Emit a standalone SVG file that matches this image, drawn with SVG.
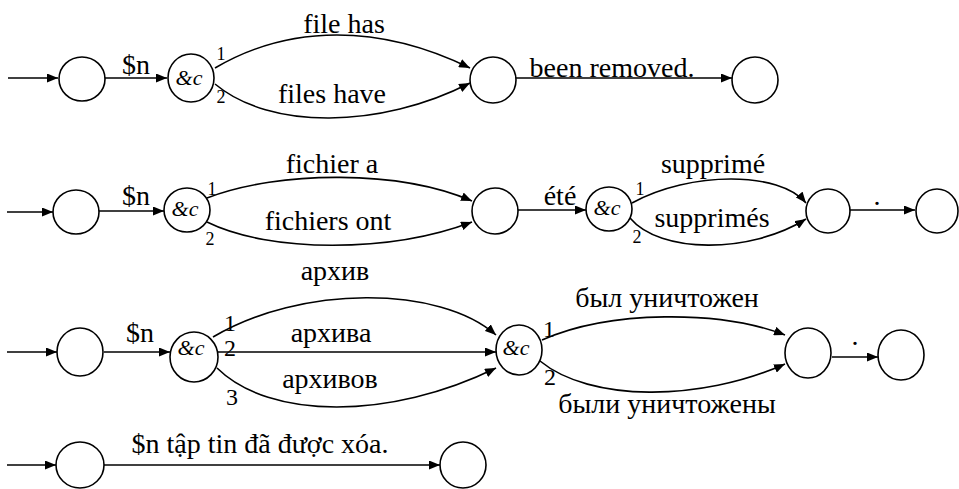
<svg xmlns="http://www.w3.org/2000/svg" width="959" height="489" viewBox="0 0 959 489">
<style>
.n{fill:#fff;stroke:#000;stroke-width:1.6}
.e{fill:none;stroke:#000;stroke-width:1.6;marker-end:url(#ah)}
text{fill:#000;text-anchor:middle}
.t{font-size:28px}
.s{font-size:18px}
.m{font-size:24px}
.c{font-size:22px;font-style:italic}
</style>
<defs>
<marker id="ah" markerUnits="userSpaceOnUse" markerWidth="12" markerHeight="9" refX="11" refY="4.5" orient="auto">
<path d="M0,0 L11,4.5 L0,9 z" fill="#000"/>
</marker>
</defs>
<rect width="959" height="489" fill="#fff"/>
<g id="connectors">
<path class="e" d="M8,78 L58,78"/>
<path class="e" d="M105,78 L167,78"/>
<path class="e" d="M215,68 C290,24 380,24 470,68"/>
<path class="e" d="M215,84 C270,130 380,129 470,83"/>
<path class="e" d="M516,78 L732,78"/>
<path class="e" d="M7,212 L53,212"/>
<path class="e" d="M99,211 L164,211"/>
<path class="e" d="M207,198 C280,170 400,170 472,201"/>
<path class="e" d="M207,222 C270,253 390,253 472,222"/>
<path class="e" d="M518,210 L586,210"/>
<path class="e" d="M632,203 C690,171 780,171 806,203"/>
<path class="e" d="M630,218 C660,254 750,254 806,219"/>
<path class="e" d="M850,210 L915,210"/>
<path class="e" d="M7,352 L57,352"/>
<path class="e" d="M104,352 L170,352"/>
<path class="e" d="M213,337 C300,285 440,285 496,335"/>
<path class="e" d="M218,352 L496,352"/>
<path class="e" d="M217,368 C270,420 390,420 496,368"/>
<path class="e" d="M542,340 C610,310 720,310 785,335"/>
<path class="e" d="M540,361 C590,402 700,402 785,364"/>
<path class="e" d="M832,357 L878,357"/>
<path class="e" d="M7,465 L56,465"/>
<path class="e" d="M104,465 L440,465"/>
</g>
<g id="labels" font-family="Liberation Serif, Times New Roman, DejaVu Serif, serif">
<text class="t" x="136" y="74">$n</text>
<text class="s" x="221" y="60">1</text>
<text class="s" x="221" y="103">2</text>
<text class="t" x="344" y="33">file has</text>
<text class="t" x="332" y="103">files have</text>
<text class="t" x="612" y="77">been removed.</text>
<text class="t" x="136" y="205">$n</text>
<text class="s" x="212" y="195">1</text>
<text class="s" x="210" y="245">2</text>
<text class="t" x="332" y="173">fichier a</text>
<text class="t" x="328" y="230">fichiers ont</text>
<text class="t" x="560" y="205">été</text>
<text class="s" x="640" y="195">1</text>
<text class="s" x="637" y="243">2</text>
<text class="t" x="713" y="173">supprimé</text>
<text class="t" x="712" y="227">supprimés</text>
<text class="t" x="877" y="205">.</text>
<text class="t" x="140" y="342">$n</text>
<text class="m" x="230" y="331">1</text>
<text class="m" x="230" y="356">2</text>
<text class="m" x="232" y="405">3</text>
<text class="t" x="335" y="280">архив</text>
<text class="t" x="331" y="342">архива</text>
<text class="t" x="330" y="388">архивов</text>
<text class="m" x="549" y="337">1</text>
<text class="m" x="550" y="385">2</text>
<text class="t" x="667" y="307">был уничтожен</text>
<text class="t" x="667" y="413">были уничтожены</text>
<text class="t" x="855" y="345">.</text>
<text class="t" x="260" y="453">$n tập tin đã được xóa.</text>
</g>
<g font-family="Liberation Serif, Times New Roman, DejaVu Serif, serif">
<g id="n1a"><ellipse class="n" cx="82" cy="79" rx="23" ry="22"/></g>
<g id="n1b"><ellipse class="n" cx="191" cy="78" rx="23" ry="24"/><text class="c" x="189" y="85">&amp;c</text></g>
<g id="n1c"><ellipse class="n" cx="493" cy="80" rx="23" ry="23"/></g>
<g id="n1d"><ellipse class="n" cx="755" cy="80" rx="23" ry="23"/></g>
<g id="n2a"><ellipse class="n" cx="76" cy="212" rx="23" ry="22"/></g>
<g id="n2b"><ellipse class="n" cx="187" cy="210" rx="23" ry="22"/><text class="c" x="185" y="216">&amp;c</text></g>
<g id="n2c"><ellipse class="n" cx="495" cy="211" rx="23" ry="23"/></g>
<g id="n2d"><ellipse class="n" cx="609" cy="209" rx="23" ry="22"/><text class="c" x="607" y="215">&amp;c</text></g>
<g id="n2e"><ellipse class="n" cx="828" cy="211" rx="22" ry="22"/></g>
<g id="n2f"><ellipse class="n" cx="937" cy="211" rx="21" ry="22"/></g>
<g id="n3a"><ellipse class="n" cx="80" cy="352" rx="23" ry="24"/></g>
<g id="n3b"><ellipse class="n" cx="194" cy="357" rx="24" ry="25"/><text class="c" x="191" y="355">&amp;c</text></g>
<g id="n3c"><ellipse class="n" cx="519" cy="350" rx="23" ry="25"/><text class="c" x="516" y="355">&amp;c</text></g>
<g id="n3d"><ellipse class="n" cx="808" cy="353" rx="23" ry="25"/></g>
<g id="n3e"><ellipse class="n" cx="901" cy="355" rx="23" ry="25"/></g>
<g id="n4a"><ellipse class="n" cx="80" cy="465" rx="24" ry="23"/></g>
<g id="n4b"><ellipse class="n" cx="463" cy="465" rx="23" ry="23"/></g>
</g>
</svg>
